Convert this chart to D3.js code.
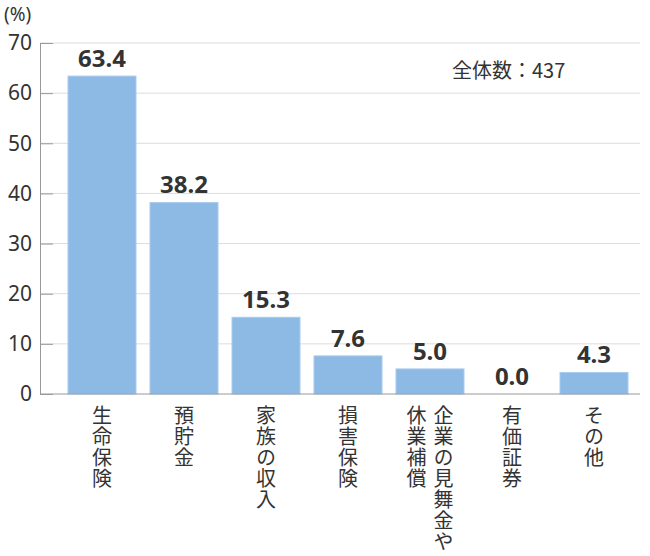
<!DOCTYPE html>
<html>
<head>
<meta charset="utf-8">
<script src="https://cdn.jsdelivr.net/npm/d3@7"></script>
<style>
  body { margin: 0; background: #fff; }
  svg text { font-family: "Noto Sans", "Noto Sans CJK JP", sans-serif; fill: #333; }
</style>
</head>
<body>
<div id="chart"></div>
<script>
// categories: each entry is a list of vertical columns (right column first)
const categories = [
    ["生命保険"],
    ["預貯金"],
    ["家族の収入"],
    ["損害保険"],
    ["企業の見舞金や", "休業補償"],
    ["有価証券"],
    ["その他"]
];
const values = [63.4, 38.2, 15.3, 7.6, 5.0, 0.0, 4.3];
const yTicks = [0, 10, 20, 30, 40, 50, 60, 70];
const totalLabel = "全体数：437";
const unitLabel = "(%)";

function drawChart() {
    const W = 650, H = 556;
    const plot = {left: 40, right: 640, top: 43, bottom: 394}; // plot area

    const svg = d3.select("#chart")
        .append("svg")
            .attr("width", W)
            .attr("height", H);

    const keys = categories.map(d => d.join("|"));
    const x = d3.scaleBand()
        .domain(keys)
        .range([61, 635])
        .paddingInner(14 / 82)
        .paddingOuter(7 / 82);
    const y = d3.scaleLinear()
        .domain([0, 70])
        .range([plot.bottom, plot.top]);

    // gridlines
    svg.append("g")
        .selectAll("line")
        .data(yTicks.filter(t => t > 0))
        .enter().append("line")
            .attr("x1", plot.left)
            .attr("x2", plot.right)
            .attr("y1", d => y(d))
            .attr("y2", d => y(d))
            .attr("stroke", "#dcdcdc")
            .attr("stroke-width", 1);

    // bars
    svg.selectAll(".bar")
        .data(values)
        .enter().append("rect")
            .attr("class", "bar")
            .attr("x", (d, i) => x(keys[i]))
            .attr("width", x.bandwidth())
            .attr("y", d => y(d))
            .attr("height", d => plot.bottom - y(d))
            .attr("fill", "#8db9e5")
            .attr("stroke", "#a9cbee")
            .attr("stroke-width", 1);

    // value labels
    svg.selectAll(".label")
        .data(values)
        .enter().append("text")
            .attr("class", "label")
            .attr("x", (d, i) => x(keys[i]) + x.bandwidth() / 2)
            .attr("y", d => y(d) - 9)
            .attr("text-anchor", "middle")
            .style("font-size", "24px")
            .style("font-weight", "bold")
            .text(d => d.toFixed(1));

    // y axis (ticks point inward)
    const yAxis = svg.append("g")
        .attr("transform", `translate(${plot.left},0)`)
        .call(d3.axisLeft(y).tickValues(yTicks).tickSizeInner(-13).tickSizeOuter(0).tickPadding(8));
    yAxis.select(".domain").attr("stroke", "#999");
    yAxis.selectAll(".tick line").attr("stroke", "#999");
    yAxis.selectAll(".tick text")
        .style("font-size", "21px")
        .style("font-family", "'Noto Sans', sans-serif")
        .attr("fill", "#333");

    // x axis with vertical category text
    const xAxis = svg.append("g")
        .attr("transform", `translate(0,${plot.bottom})`)
        .call(d3.axisBottom(x).tickSize(0).tickFormat(""));
    xAxis.select(".domain").remove();
    svg.append("line")
        .attr("x1", plot.left)
        .attr("x2", plot.right)
        .attr("y1", plot.bottom)
        .attr("y2", plot.bottom)
        .attr("stroke", "#999");

    const colGap = 27;
    xAxis.selectAll(".tick").each(function(k, i) {
        const cols = categories[i];
        const g = d3.select(this);
        cols.forEach((col, c) => {
            const cx = (cols.length - 1) * colGap / 2 - c * colGap;
            g.append("text")
                .attr("x", cx)
                .attr("y", 11)
                .attr("text-anchor", "start")
                .style("writing-mode", "vertical-rl")
                .style("text-orientation", "upright")
                .style("letter-spacing", "1px")
                .style("font-size", "20px")
                .style("font-family", "'Noto Sans CJK JP', sans-serif")
                .attr("fill", "#333")
                .text(col);
        });
    });

    // unit and total
    svg.append("text")
        .attr("x", 4)
        .attr("y", 21)
        .style("font-size", "19px")
        .text(unitLabel);

    svg.append("text")
        .attr("x", 452)
        .attr("y", 78)
        .style("font-size", "20px")
        .style("font-family", "'Noto Sans CJK JP', sans-serif")
        .text(totalLabel);
}

drawChart();
</script>
</body>
</html>
